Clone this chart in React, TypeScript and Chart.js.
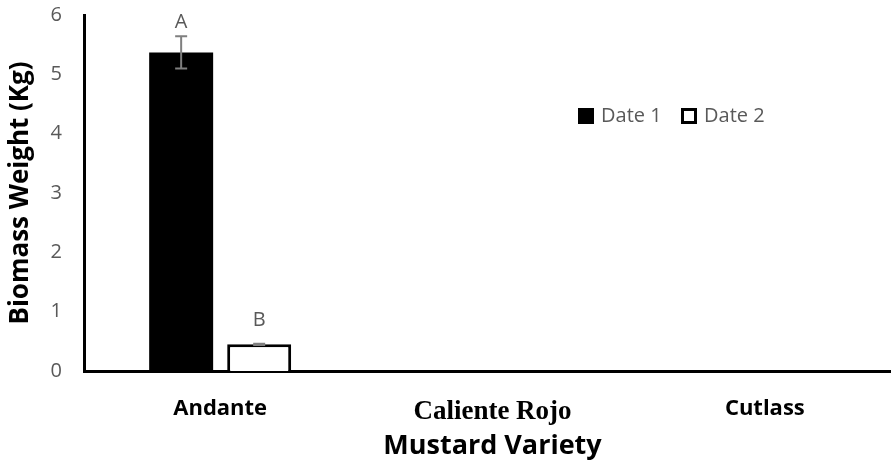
import React, { useEffect, useRef } from "react";
import { Chart, registerables } from "chart.js";

Chart.register(...registerables);

const categories = ["Andante", "Caliente Rojo", "Cutlass"];
const seriesNames = ["Date 1", "Date 2"];
const date1 = [5.37, null, null];
const date2 = [0.45, null, null];
const date1Err = [0.27, null, null];
const date2Err = [0.01, null, null];
const date1Letters = ["A", "", ""];
const date2Letters = ["B", "", ""];
const date1LetterAt = [5.87, null, null];
const date2LetterAt = [0.86, null, null];
const yTickValues = [0, 1, 2, 3, 4, 5, 6];

const GRAY = "#595959";

const errs = [date1Err, date2Err];
const letters = [date1Letters, date2Letters];
const letterAt = [date1LetterAt, date2LetterAt];

const annotPlugin = {
  id: "annot",
  afterDatasetsDraw(chart: any) {
    const ctx = chart.ctx;
    const y = chart.scales.y;
    chart.data.datasets.forEach((ds: any, i: number) => {
      const meta = chart.getDatasetMeta(i);
      meta.data.forEach((el: any, j: number) => {
        const v = ds.data[j];
        if (v == null) return;
        const e = errs[i][j];
        if (e != null) {
          const yt = y.getPixelForValue(v + e);
          const yb = y.getPixelForValue(v - e);
          ctx.save();
          ctx.strokeStyle = "#7f7f7f";
          ctx.lineWidth = 2;
          ctx.beginPath();
          ctx.moveTo(el.x, yt);
          ctx.lineTo(el.x, yb);
          ctx.moveTo(el.x - 6, yt);
          ctx.lineTo(el.x + 6, yt);
          ctx.moveTo(el.x - 6, yb);
          ctx.lineTo(el.x + 6, yb);
          ctx.stroke();
          ctx.restore();
        }
        const t = letters[i][j];
        const at = letterAt[i][j];
        if (t && at != null) {
          ctx.save();
          ctx.fillStyle = GRAY;
          ctx.font = "20px 'Open Sans'";
          ctx.textAlign = "center";
          ctx.textBaseline = "middle";
          ctx.fillText(t, el.x, y.getPixelForValue(at));
          ctx.restore();
        }
      });
    });
  },
};

const legendPlugin = {
  id: "customLegend",
  afterDraw(chart: any) {
    const ctx = chart.ctx;
    const items = [
      { x: 578, fill: "#000000" },
      { x: 681, fill: "#ffffff" },
    ];
    ctx.save();
    items.forEach((it, i) => {
      const by = 108;
      ctx.fillStyle = "#000000";
      ctx.fillRect(it.x, by, 16, 16);
      if (it.fill === "#ffffff") {
        ctx.fillStyle = "#ffffff";
        ctx.fillRect(it.x + 3, by + 3, 10, 10);
      }
      ctx.fillStyle = GRAY;
      ctx.font = "20px 'Open Sans'";
      ctx.textAlign = "left";
      ctx.textBaseline = "middle";
      ctx.fillText(seriesNames[i], it.x + 23, by + 8);
    });
    ctx.restore();
  },
};

export default function App() {
  const ref = useRef<HTMLCanvasElement | null>(null);
  useEffect(() => {
    if (!ref.current) return;
    const chart = new Chart(ref.current, {
      type: "bar",
      data: {
        labels: categories,
        datasets: [
          {
            label: seriesNames[0],
            data: date1 as any,
            backgroundColor: "#000000",
            borderColor: "#000000",
            borderWidth: 0,
            barPercentage: 0.82,
            categoryPercentage: 0.573,
          },
          {
            label: seriesNames[1],
            data: date2 as any,
            backgroundColor: "#ffffff",
            borderColor: "#000000",
            borderWidth: 3,
            barPercentage: 0.82,
            categoryPercentage: 0.573,
          },
        ],
      },
      options: {
        animation: false,
        responsive: false,
        maintainAspectRatio: false,
        layout: { padding: { top: 15, right: 0, left: 0, bottom: 0 } },
        plugins: {
          legend: { display: false },
          tooltip: { enabled: false },
        },
        scales: {
          x: {
            grid: { display: false, drawTicks: false },
            border: { display: true, color: "#000000", width: 3 },
            ticks: {
              color: "#000000",
              padding: 25,
              font: (c: any) =>
                c.index === 1
                  ? { family: "'Liberation Serif'", size: 27, weight: "bold" }
                  : { family: "'Open Sans'", size: 22, weight: "bold" },
            },
            title: {
              display: true,
              text: "Mustard Variety",
              color: "#000000",
              font: { family: "'Open Sans'", size: 27, weight: "bold" },
              padding: { top: 0, bottom: 4 },
            },
            afterFit: (s: any) => {
              s.height = 96;
              s.paddingLeft = 0;
              s.paddingRight = 0;
            },
          },
          y: {
            min: 0,
            max: 6,
            grid: { display: false, drawTicks: false },
            border: { display: true, color: "#000000", width: 3 },
            afterBuildTicks: (s: any) => {
              s.ticks = yTickValues.map((v) => ({ value: v }));
            },
            ticks: {
              color: GRAY,
              padding: 22,
              font: { family: "'Open Sans'", size: 20 },
            },
            title: {
              display: true,
              text: "Biomass Weight (Kg)",
              color: "#000000",
              font: { family: "'Open Sans'", size: 26, weight: "bold" },
              padding: { top: 5, bottom: 0 },
            },
            afterFit: (s: any) => {
              s.width = 84;
              s.paddingTop = 0;
              s.paddingBottom = 0;
            },
          },
        },
      },
      plugins: [annotPlugin, legendPlugin],
    });
    return () => chart.destroy();
  }, []);
  return (
    <div
      style={{
        position: "fixed",
        left: 0,
        top: 0,
        width: 891,
        height: 467,
        overflow: "hidden",
        background: "#fff",
      }}
    >
      <canvas ref={ref} width={901} height={467} style={{ width: 901, height: 467, display: "block" }} />
    </div>
  );
}
